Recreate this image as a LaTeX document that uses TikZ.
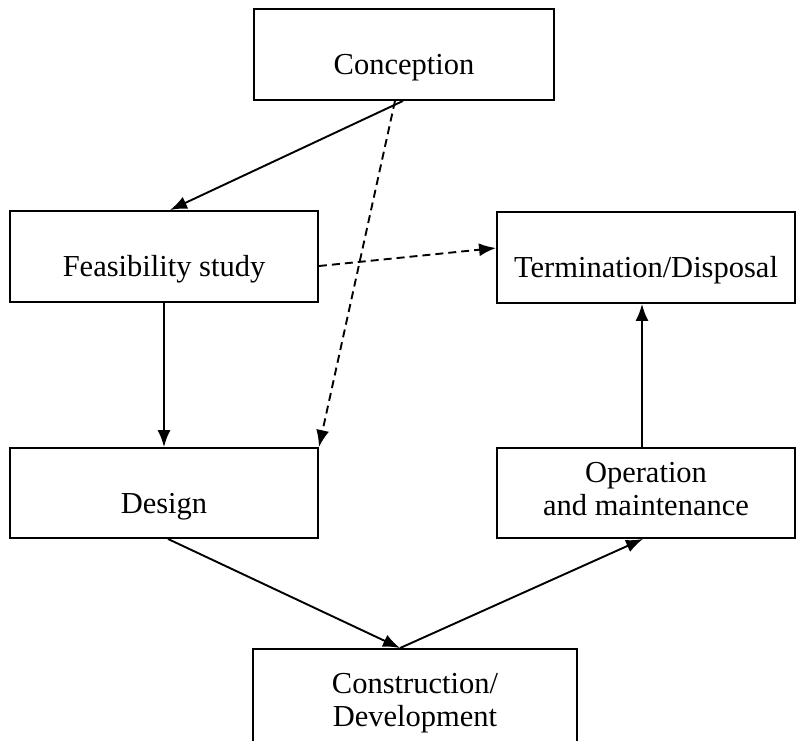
\documentclass[tikz,border=0pt]{standalone}
\usepackage{fontspec}
\setmainfont{Liberation Serif}
\usetikzlibrary{arrows.meta}
\tikzset{
  box/.style={draw, line width=1.9pt, inner xsep=2pt, inner ysep=0pt, align=center,
    font=\fontsize{30.5}{33}\selectfont,
    execute at begin node={\rule{0pt}{48pt}},
    execute at end node={\rule[-8pt]{0pt}{8pt}}},
  lowbox/.style={draw, line width=1.9pt, inner xsep=2pt, inner ysep=0pt, align=center,
    font=\fontsize{30.5}{33}\selectfont,
    execute at begin node={\rule{0pt}{27pt}},
    execute at end node={\rule[-8pt]{0pt}{8pt}}},
  arr/.style={line width=1.9pt, -{Latex[length=17pt,width=13pt]}},
  darr/.style={arr, dash pattern=on 8pt off 5pt}
}
\begin{document}
\begin{tikzpicture}[x=1pt,y=-1pt]
\useasboundingbox (0,0) rectangle (796,740);
\node[box, minimum width=300pt, minimum height=91pt] (conc) at (404,54.5) {Conception};
\node[box, minimum width=308pt, minimum height=91pt] (feas) at (164,256.5) {Feasibility study};
\node[box, minimum width=298pt, minimum height=91pt] (term) at (646,257.5) {Termination/Disposal};
\node[box, minimum width=308pt, minimum height=90pt] (design) at (164,493) {Design};
\node[box, minimum width=298pt, minimum height=90pt] (oper) at (646,493) {Operation\\and maintenance};
\node[lowbox, minimum width=324pt, minimum height=110pt] (cons) at (415,704) {Construction/\\Development};

\draw[arr] ([xshift=-1pt]conc.south) -- ([xshift=6pt]feas.north);
\draw[darr] ([xshift=-9pt]conc.south) -- (design.north east);
\draw[darr] ([yshift=-9.5pt]feas.east) -- ([yshift=9.5pt]term.west);
\draw[arr] (feas.south) -- (design.north);
\draw[arr] ([xshift=4pt]design.south) -- ([xshift=-15pt]cons.north);
\draw[arr] ([xshift=-15pt]cons.north) -- ([xshift=-3pt]oper.south);
\draw[arr] ([xshift=-4pt]oper.north) -- ([xshift=-4pt]term.south);
\end{tikzpicture}
\end{document}
